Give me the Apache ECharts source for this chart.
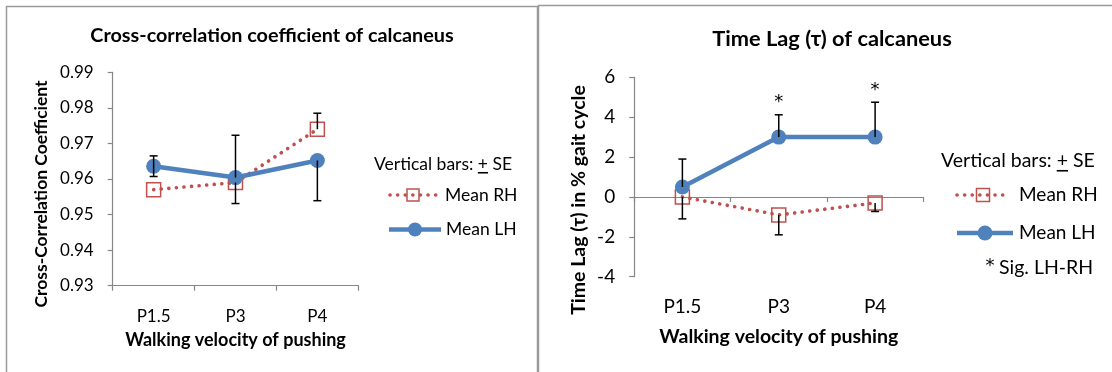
<!DOCTYPE html>
<html>
<head>
<meta charset="utf-8">
<script src="https://cdn.jsdelivr.net/npm/echarts@6/dist/echarts.min.js"></script>
<style>
  html, body { margin: 0; padding: 0; background: #fff; }
  #chart { width: 1112px; height: 372px; }
</style>
</head>
<body>
<div id="chart"></div>
<script>
// ---- data ----
const categories = ['P1.5', 'P3', 'P4'];

// Cross-correlation coefficient of calcaneus
const ccTickLabels = ['0.93', '0.94', '0.95', '0.96', '0.97', '0.98', '0.99'];
const ccMeanRH = [0.957, 0.959, 0.974];
const ccMeanLH = [0.9636, 0.9604, 0.9652];
const ccSeDownRH = [0, 0.0059, 0];
const ccSeUpRH = [0, 0, 0.0045];
const ccSeDownLH = [0.0029, 0, 0.0113];
const ccSeUpLH = [0.0029, 0.0119, 0];

// Time lag (tau) of calcaneus, % gait cycle
const lagTickLabels = ['-4', '-2', '0', '2', '4', '6'];
const lagMeanRH = [0, -0.9, -0.3];
const lagMeanLH = [0.5, 3.0, 3.0];
const lagSeDownRH = [1.1, 1.0, 0.43];
const lagSeUpRH = [0, 0, 0];
const lagSeDownLH = [0, 0, 0];
const lagSeUpLH = [1.4, 1.12, 1.75];
const lagSig = [false, true, true];

// ---- styling ----
const FONT = 'Lato, "Open Sans", "DejaVu Sans", sans-serif';
const STAR_FONT = '"DejaVu Sans", sans-serif';
const BLUE = '#4F81BD';
const RED = '#C0504D';
const AXIS = '#868686';
const DOTS = [0.1, 7.5];

function errorData(mean, down, up) {
  const out = [];
  mean.forEach((m, i) => {
    if (down[i] > 0 || up[i] > 0) {
      out.push([i, m - down[i], m + up[i], down[i] > 0 ? 1 : 0, up[i] > 0 ? 1 : 0]);
    }
  });
  return out;
}

function renderErrorBar(params, api) {
  const i = api.value(0);
  const pLo = api.coord([i, api.value(1)]);
  const pHi = api.coord([i, api.value(2)]);
  const half = 4;
  const st = { stroke: '#000', lineWidth: 1.5 };
  const children = [{ type: 'line', shape: { x1: pLo[0], y1: pLo[1], x2: pHi[0], y2: pHi[1] }, style: st }];
  if (api.value(3)) children.push({ type: 'line', shape: { x1: pLo[0] - half, y1: pLo[1], x2: pLo[0] + half, y2: pLo[1] }, style: st });
  if (api.value(4)) children.push({ type: 'line', shape: { x1: pHi[0] - half, y1: pHi[1], x2: pHi[0] + half, y2: pHi[1] }, style: st });
  return { type: 'group', children };
}

function sigData() {
  const out = [];
  lagSig.forEach((s, i) => { if (s) out.push([i, lagMeanLH[i] + lagSeUpLH[i]]); });
  return out;
}

function rhSeries(idx, data) {
  return {
    name: 'Mean RH', type: 'line', xAxisIndex: idx, yAxisIndex: idx, data,
    symbol: 'rect', symbolSize: 14,
    itemStyle: { color: 'rgba(255,255,255,0)', borderColor: RED, borderWidth: 1.5 },
    lineStyle: { color: RED, width: 3.6, type: DOTS, cap: 'round' },
    z: 2
  };
}
function lhSeries(idx, data) {
  return {
    name: 'Mean LH', type: 'line', xAxisIndex: idx, yAxisIndex: idx, data,
    symbol: 'circle', symbolSize: 15,
    itemStyle: { color: BLUE, borderWidth: 0 },
    lineStyle: { color: BLUE, width: 4.5 },
    z: 3
  };
}

function xAxis(idx, fontSize, nameSize, gap, margin) {
  return {
    type: 'category', gridIndex: idx, data: categories, boundaryGap: true,
    name: 'Walking velocity of pushing', nameLocation: 'middle', nameGap: gap,
    nameTextStyle: { fontFamily: FONT, fontWeight: 'bold', fontSize: nameSize, color: '#000' },
    axisLine: { lineStyle: { color: AXIS, width: 1.2 } },
    axisTick: { show: true, alignWithLabel: false, length: 5, lineStyle: { color: AXIS, width: 1.2 } },
    axisLabel: { fontFamily: FONT, fontSize, color: '#000', margin },
    splitLine: { show: false }
  };
}
// nameShift moves the rotated axis title down along the axis
function yAxis(idx, labels, interval, name, fontSize, nameSize, gap, nameShift) {
  return {
    type: 'value', gridIndex: idx,
    min: Number(labels[0]), max: Number(labels[labels.length - 1]), interval,
    name, nameLocation: 'middle', nameGap: gap, nameRotate: 90,
    nameTextStyle: { fontFamily: FONT, fontWeight: 'bold', fontSize: nameSize, color: '#000',
      padding: [0, nameShift * 2, 0, 0] },
    axisLine: { show: true, lineStyle: { color: AXIS, width: 1.2 } },
    axisTick: { show: true, length: 5, lineStyle: { color: AXIS, width: 1.2 } },
    axisLabel: {
      fontFamily: FONT, fontSize, color: '#000', margin: 19,
      formatter: v => labels.find(l => Math.abs(Number(l) - v) < 1e-9) || ''
    },
    splitLine: { show: false }
  };
}

// width of a text run, used to place the underline of the "+" sign
const measureCtx = document.createElement('canvas').getContext('2d');
function textWidth(str, size) {
  measureCtx.font = size + 'px ' + FONT;
  return measureCtx.measureText(str).width;
}
function label(text, x, y, size) {
  return { type: 'text', x, y, z: 10,
    style: { text, font: size + 'px ' + FONT, fill: '#000', align: 'left', verticalAlign: 'middle' } };
}
function seNote(x, y, size) {
  const px = x + textWidth('Vertical bars: ', size);
  const pw = textWidth('+', size);
  const uy = y + size * 0.5;
  return [
    label('Vertical bars: + SE', x, y, size),
    { type: 'line', z: 10, shape: { x1: px, y1: uy, x2: px + pw, y2: uy },
      style: { stroke: '#000', lineWidth: 1.6 } }
  ];
}
// legend rows drawn as line sample + marker + text
function legendRH(x1, x2, y, sq, tx, size) {
  const cx = (x1 + x2) / 2;
  return [
    { type: 'line', z: 10, shape: { x1, y1: y, x2, y2: y },
      style: { stroke: RED, lineWidth: 3.6, lineDash: DOTS, lineCap: 'round' } },
    { type: 'rect', z: 11, shape: { x: cx - sq / 2, y: y - sq / 2, width: sq, height: sq },
      style: { fill: 'none', stroke: RED, lineWidth: 1.5 } },
    label('Mean RH', tx, y, size)
  ];
}
function legendLH(x1, x2, y, r, tx, size) {
  return [
    { type: 'line', z: 10, shape: { x1, y1: y, x2, y2: y },
      style: { stroke: BLUE, lineWidth: 4.5 } },
    { type: 'circle', z: 11, shape: { cx: (x1 + x2) / 2, cy: y, r }, style: { fill: BLUE } },
    label('Mean LH', tx, y, size)
  ];
}

const chart = echarts.init(document.getElementById('chart'), null, { renderer: 'canvas' });
chart.setOption({
  backgroundColor: '#fff',
  animation: false,
  title: [
    { text: 'Cross-correlation coefficient of calcaneus', left: 267, top: 21, textAlign: 'center',
      textStyle: { fontFamily: FONT, fontWeight: 'bold', fontSize: 19.8, color: '#000' } },
    { text: 'Time Lag (τ) of calcaneus', left: 827, top: 23, textAlign: 'center',
      textStyle: { fontFamily: FONT, fontWeight: 'bold', fontSize: 21.8, color: '#000' } }
  ],
  grid: [
    { left: 112.7, top: 72.3, width: 245.6, height: 213.4 },
    { left: 634.2, top: 77.3, width: 289.1, height: 199.4 }
  ],
  xAxis: [xAxis(0, 17, 18, 45, 22), xAxis(1, 19, 19.5, 50, 21)],
  yAxis: [
    yAxis(0, ccTickLabels, 0.01, 'Cross-Correlation Coefficient', 17, 17.5, 62, 15),
    yAxis(1, lagTickLabels, 2, 'Time Lag (τ) in % gait cycle', 19, 19.5, 45, 23)
  ],
  graphic: [
    // panel frames
    { type: 'rect', z: 0, shape: { x: 6.5, y: 6.5, width: 531, height: 400 },
      style: { fill: 'none', stroke: '#9a9a9a', lineWidth: 1.5 } },
    { type: 'rect', z: 0, shape: { x: 538.5, y: 5.5, width: 620, height: 400 },
      style: { fill: 'none', stroke: '#9a9a9a', lineWidth: 1.5 } },
    // left legend
    ...seNote(374, 164, 17.5),
    ...legendRH(390, 436, 195, 12, 445, 17.5),
    ...legendLH(389, 441, 229.5, 7, 446, 17.5),
    // right legend
    ...seNote(941, 161, 19.5),
    ...legendRH(957, 1009, 195, 13, 1019, 19),
    ...legendLH(957, 1013, 233, 7.5, 1019, 19),
    { type: 'text', x: 990, y: 266, z: 10,
      style: { text: '*', font: '18px ' + STAR_FONT, fill: '#000', align: 'center', verticalAlign: 'middle' } },
    label('Sig. LH-RH', 999, 268, 19.5)
  ],
  series: [
    rhSeries(0, ccMeanRH),
    lhSeries(0, ccMeanLH),
    { type: 'custom', xAxisIndex: 0, yAxisIndex: 0, z: 5, renderItem: renderErrorBar,
      data: errorData(ccMeanRH, ccSeDownRH, ccSeUpRH).concat(errorData(ccMeanLH, ccSeDownLH, ccSeUpLH)) },
    rhSeries(1, lagMeanRH),
    lhSeries(1, lagMeanLH),
    { type: 'custom', xAxisIndex: 1, yAxisIndex: 1, z: 5, renderItem: renderErrorBar,
      data: errorData(lagMeanRH, lagSeDownRH, lagSeUpRH).concat(errorData(lagMeanLH, lagSeDownLH, lagSeUpLH)) },
    { type: 'custom', xAxisIndex: 1, yAxisIndex: 1, z: 6, data: sigData(),
      renderItem: (params, api) => {
        const p = api.coord([api.value(0), api.value(1)]);
        return { type: 'text', style: { text: '*', x: p[0], y: p[1] - 12, align: 'center', verticalAlign: 'middle',
          font: '18px ' + STAR_FONT, fill: '#000' } };
      } }
  ]
});
</script>
</body>
</html>
